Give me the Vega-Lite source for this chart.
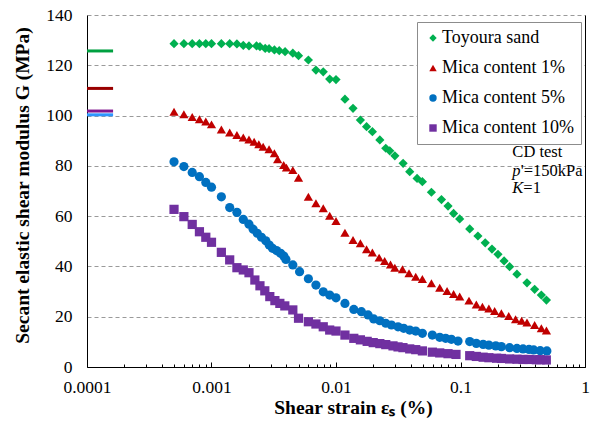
{
  "$schema": "https://vega.github.io/schema/vega-lite/v6.json",
  "width": 498,
  "height": 352,
  "autosize": "none",
  "padding": {"left": 87, "top": 15, "right": 9, "bottom": 56},
  "background": "white",
  "config": {
    "font": "Liberation Serif",
    "view": {"stroke": null},
    "axis": {
      "labelFont": "Liberation Serif",
      "labelFontSize": 17.5,
      "labelColor": "black",
      "titleFont": "Liberation Serif",
      "titleFontSize": 19.5,
      "titleFontWeight": "bold",
      "titleColor": "black",
      "domainColor": "black",
      "domainWidth": 1
    }
  },
  "datasets": {
    "points": [
      {"series": "Toyoura sand", "strain": 0.0005, "G": 128.6},
      {"series": "Toyoura sand", "strain": 0.0006, "G": 128.6},
      {"series": "Toyoura sand", "strain": 0.0007, "G": 128.6},
      {"series": "Toyoura sand", "strain": 0.0008, "G": 128.6},
      {"series": "Toyoura sand", "strain": 0.0009, "G": 128.6},
      {"series": "Toyoura sand", "strain": 0.001, "G": 128.6},
      {"series": "Toyoura sand", "strain": 0.0012, "G": 128.6},
      {"series": "Toyoura sand", "strain": 0.0014, "G": 128.6},
      {"series": "Toyoura sand", "strain": 0.0016, "G": 128.5},
      {"series": "Toyoura sand", "strain": 0.0018, "G": 127.9},
      {"series": "Toyoura sand", "strain": 0.002, "G": 127.7},
      {"series": "Toyoura sand", "strain": 0.0023, "G": 127.7},
      {"series": "Toyoura sand", "strain": 0.00245, "G": 127.4},
      {"series": "Toyoura sand", "strain": 0.0027, "G": 126.7},
      {"series": "Toyoura sand", "strain": 0.0029, "G": 126.6},
      {"series": "Toyoura sand", "strain": 0.0032, "G": 126.1},
      {"series": "Toyoura sand", "strain": 0.0035, "G": 125.8},
      {"series": "Toyoura sand", "strain": 0.0039, "G": 125.4},
      {"series": "Toyoura sand", "strain": 0.0045, "G": 124.8},
      {"series": "Toyoura sand", "strain": 0.005, "G": 123.8},
      {"series": "Toyoura sand", "strain": 0.006, "G": 122.1},
      {"series": "Toyoura sand", "strain": 0.0069, "G": 118.1},
      {"series": "Toyoura sand", "strain": 0.0079, "G": 117.4},
      {"series": "Toyoura sand", "strain": 0.0089, "G": 114.5},
      {"series": "Toyoura sand", "strain": 0.01, "G": 114.3},
      {"series": "Toyoura sand", "strain": 0.0118, "G": 106.5},
      {"series": "Toyoura sand", "strain": 0.0137, "G": 102.9},
      {"series": "Toyoura sand", "strain": 0.0157, "G": 98.2},
      {"series": "Toyoura sand", "strain": 0.0176, "G": 95.6},
      {"series": "Toyoura sand", "strain": 0.0196, "G": 93.6},
      {"series": "Toyoura sand", "strain": 0.0225, "G": 90.3},
      {"series": "Toyoura sand", "strain": 0.0251, "G": 87.0},
      {"series": "Toyoura sand", "strain": 0.027, "G": 86.0},
      {"series": "Toyoura sand", "strain": 0.0297, "G": 84.0},
      {"series": "Toyoura sand", "strain": 0.0346, "G": 81.0},
      {"series": "Toyoura sand", "strain": 0.0391, "G": 77.7},
      {"series": "Toyoura sand", "strain": 0.0448, "G": 75.0},
      {"series": "Toyoura sand", "strain": 0.0494, "G": 73.7},
      {"series": "Toyoura sand", "strain": 0.0584, "G": 69.5},
      {"series": "Toyoura sand", "strain": 0.0703, "G": 66.6},
      {"series": "Toyoura sand", "strain": 0.0794, "G": 64.0},
      {"series": "Toyoura sand", "strain": 0.088, "G": 61.1},
      {"series": "Toyoura sand", "strain": 0.0985, "G": 58.9},
      {"series": "Toyoura sand", "strain": 0.1186, "G": 54.9},
      {"series": "Toyoura sand", "strain": 0.138, "G": 52.1},
      {"series": "Toyoura sand", "strain": 0.158, "G": 49.4},
      {"series": "Toyoura sand", "strain": 0.179, "G": 46.9},
      {"series": "Toyoura sand", "strain": 0.2, "G": 44.8},
      {"series": "Toyoura sand", "strain": 0.224, "G": 42.2},
      {"series": "Toyoura sand", "strain": 0.248, "G": 39.9},
      {"series": "Toyoura sand", "strain": 0.284, "G": 36.9},
      {"series": "Toyoura sand", "strain": 0.342, "G": 33.5},
      {"series": "Toyoura sand", "strain": 0.394, "G": 30.9},
      {"series": "Toyoura sand", "strain": 0.446, "G": 28.6},
      {"series": "Toyoura sand", "strain": 0.49, "G": 26.6},

      {"series": "Mica content 1%", "strain": 0.0005, "G": 101.5},
      {"series": "Mica content 1%", "strain": 0.0006, "G": 100.5},
      {"series": "Mica content 1%", "strain": 0.0007, "G": 99.4},
      {"series": "Mica content 1%", "strain": 0.0008, "G": 98.5},
      {"series": "Mica content 1%", "strain": 0.0009, "G": 97.6},
      {"series": "Mica content 1%", "strain": 0.001, "G": 96.5},
      {"series": "Mica content 1%", "strain": 0.0012, "G": 94.5},
      {"series": "Mica content 1%", "strain": 0.0014, "G": 93.3},
      {"series": "Mica content 1%", "strain": 0.0016, "G": 92.3},
      {"series": "Mica content 1%", "strain": 0.0018, "G": 91.3},
      {"series": "Mica content 1%", "strain": 0.002, "G": 90.5},
      {"series": "Mica content 1%", "strain": 0.0022, "G": 89.6},
      {"series": "Mica content 1%", "strain": 0.0024, "G": 88.6},
      {"series": "Mica content 1%", "strain": 0.0026, "G": 87.6},
      {"series": "Mica content 1%", "strain": 0.0029, "G": 86.6},
      {"series": "Mica content 1%", "strain": 0.0032, "G": 85.0},
      {"series": "Mica content 1%", "strain": 0.0034, "G": 82.6},
      {"series": "Mica content 1%", "strain": 0.0038, "G": 80.3},
      {"series": "Mica content 1%", "strain": 0.004, "G": 79.3},
      {"series": "Mica content 1%", "strain": 0.0045, "G": 78.3},
      {"series": "Mica content 1%", "strain": 0.005, "G": 75.3},
      {"series": "Mica content 1%", "strain": 0.006, "G": 67.7},
      {"series": "Mica content 1%", "strain": 0.0069, "G": 65.1},
      {"series": "Mica content 1%", "strain": 0.0079, "G": 63.1},
      {"series": "Mica content 1%", "strain": 0.0089, "G": 60.2},
      {"series": "Mica content 1%", "strain": 0.01, "G": 58.1},
      {"series": "Mica content 1%", "strain": 0.0118, "G": 53.4},
      {"series": "Mica content 1%", "strain": 0.0137, "G": 50.5},
      {"series": "Mica content 1%", "strain": 0.0157, "G": 49.2},
      {"series": "Mica content 1%", "strain": 0.0176, "G": 46.8},
      {"series": "Mica content 1%", "strain": 0.0196, "G": 45.5},
      {"series": "Mica content 1%", "strain": 0.0222, "G": 43.5},
      {"series": "Mica content 1%", "strain": 0.0246, "G": 42.2},
      {"series": "Mica content 1%", "strain": 0.0274, "G": 40.8},
      {"series": "Mica content 1%", "strain": 0.0297, "G": 39.5},
      {"series": "Mica content 1%", "strain": 0.0342, "G": 38.9},
      {"series": "Mica content 1%", "strain": 0.0386, "G": 37.3},
      {"series": "Mica content 1%", "strain": 0.0437, "G": 35.9},
      {"series": "Mica content 1%", "strain": 0.0494, "G": 35.0},
      {"series": "Mica content 1%", "strain": 0.0584, "G": 33.3},
      {"series": "Mica content 1%", "strain": 0.0681, "G": 31.5},
      {"series": "Mica content 1%", "strain": 0.078, "G": 30.2},
      {"series": "Mica content 1%", "strain": 0.088, "G": 29.0},
      {"series": "Mica content 1%", "strain": 0.0985, "G": 28.0},
      {"series": "Mica content 1%", "strain": 0.117, "G": 26.4},
      {"series": "Mica content 1%", "strain": 0.134, "G": 24.9},
      {"series": "Mica content 1%", "strain": 0.15, "G": 24.0},
      {"series": "Mica content 1%", "strain": 0.169, "G": 23.3},
      {"series": "Mica content 1%", "strain": 0.188, "G": 22.3},
      {"series": "Mica content 1%", "strain": 0.213, "G": 21.4},
      {"series": "Mica content 1%", "strain": 0.244, "G": 20.3},
      {"series": "Mica content 1%", "strain": 0.277, "G": 19.0},
      {"series": "Mica content 1%", "strain": 0.31, "G": 18.4},
      {"series": "Mica content 1%", "strain": 0.342, "G": 17.7},
      {"series": "Mica content 1%", "strain": 0.394, "G": 16.7},
      {"series": "Mica content 1%", "strain": 0.446, "G": 15.4},
      {"series": "Mica content 1%", "strain": 0.49, "G": 14.5},

      {"series": "Mica content 5%", "strain": 0.0005, "G": 81.6},
      {"series": "Mica content 5%", "strain": 0.0006, "G": 79.7},
      {"series": "Mica content 5%", "strain": 0.0007, "G": 77.4},
      {"series": "Mica content 5%", "strain": 0.0008, "G": 75.7},
      {"series": "Mica content 5%", "strain": 0.0009, "G": 73.4},
      {"series": "Mica content 5%", "strain": 0.001, "G": 71.5},
      {"series": "Mica content 5%", "strain": 0.0012, "G": 67.7},
      {"series": "Mica content 5%", "strain": 0.0014, "G": 63.4},
      {"series": "Mica content 5%", "strain": 0.0016, "G": 61.5},
      {"series": "Mica content 5%", "strain": 0.0018, "G": 58.7},
      {"series": "Mica content 5%", "strain": 0.002, "G": 56.8},
      {"series": "Mica content 5%", "strain": 0.00216, "G": 54.8},
      {"series": "Mica content 5%", "strain": 0.00233, "G": 53.2},
      {"series": "Mica content 5%", "strain": 0.00252, "G": 51.6},
      {"series": "Mica content 5%", "strain": 0.00273, "G": 50.2},
      {"series": "Mica content 5%", "strain": 0.00291, "G": 48.5},
      {"series": "Mica content 5%", "strain": 0.00309, "G": 47.2},
      {"series": "Mica content 5%", "strain": 0.00333, "G": 46.3},
      {"series": "Mica content 5%", "strain": 0.00359, "G": 45.2},
      {"series": "Mica content 5%", "strain": 0.00381, "G": 44.1},
      {"series": "Mica content 5%", "strain": 0.00396, "G": 42.8},
      {"series": "Mica content 5%", "strain": 0.0045, "G": 40.6},
      {"series": "Mica content 5%", "strain": 0.0051, "G": 37.9},
      {"series": "Mica content 5%", "strain": 0.006, "G": 35.1},
      {"series": "Mica content 5%", "strain": 0.0069, "G": 32.6},
      {"series": "Mica content 5%", "strain": 0.0079, "G": 29.9},
      {"series": "Mica content 5%", "strain": 0.0089, "G": 28.6},
      {"series": "Mica content 5%", "strain": 0.01, "G": 27.5},
      {"series": "Mica content 5%", "strain": 0.0118, "G": 25.3},
      {"series": "Mica content 5%", "strain": 0.0139, "G": 22.9},
      {"series": "Mica content 5%", "strain": 0.016, "G": 22.0},
      {"series": "Mica content 5%", "strain": 0.0181, "G": 20.7},
      {"series": "Mica content 5%", "strain": 0.0201, "G": 19.1},
      {"series": "Mica content 5%", "strain": 0.0225, "G": 18.4},
      {"series": "Mica content 5%", "strain": 0.0251, "G": 17.4},
      {"series": "Mica content 5%", "strain": 0.0279, "G": 16.7},
      {"series": "Mica content 5%", "strain": 0.0315, "G": 16.0},
      {"series": "Mica content 5%", "strain": 0.035, "G": 15.4},
      {"series": "Mica content 5%", "strain": 0.0391, "G": 14.7},
      {"series": "Mica content 5%", "strain": 0.0437, "G": 14.3},
      {"series": "Mica content 5%", "strain": 0.0494, "G": 13.4},
      {"series": "Mica content 5%", "strain": 0.0594, "G": 12.7},
      {"series": "Mica content 5%", "strain": 0.0681, "G": 11.8},
      {"series": "Mica content 5%", "strain": 0.076, "G": 11.4},
      {"series": "Mica content 5%", "strain": 0.0845, "G": 11.0},
      {"series": "Mica content 5%", "strain": 0.0955, "G": 10.3},
      {"series": "Mica content 5%", "strain": 0.1186, "G": 10.1},
      {"series": "Mica content 5%", "strain": 0.134, "G": 9.4},
      {"series": "Mica content 5%", "strain": 0.152, "G": 9.0},
      {"series": "Mica content 5%", "strain": 0.169, "G": 8.7},
      {"series": "Mica content 5%", "strain": 0.192, "G": 8.4},
      {"series": "Mica content 5%", "strain": 0.213, "G": 8.1},
      {"series": "Mica content 5%", "strain": 0.248, "G": 7.7},
      {"series": "Mica content 5%", "strain": 0.284, "G": 7.4},
      {"series": "Mica content 5%", "strain": 0.318, "G": 7.2},
      {"series": "Mica content 5%", "strain": 0.355, "G": 7.0},
      {"series": "Mica content 5%", "strain": 0.387, "G": 6.8},
      {"series": "Mica content 5%", "strain": 0.437, "G": 6.5},
      {"series": "Mica content 5%", "strain": 0.494, "G": 6.4},

      {"series": "Mica content 10%", "strain": 0.0005, "G": 62.7},
      {"series": "Mica content 10%", "strain": 0.0006, "G": 59.8},
      {"series": "Mica content 10%", "strain": 0.0007, "G": 56.7},
      {"series": "Mica content 10%", "strain": 0.0008, "G": 53.8},
      {"series": "Mica content 10%", "strain": 0.0009, "G": 51.6},
      {"series": "Mica content 10%", "strain": 0.001, "G": 49.6},
      {"series": "Mica content 10%", "strain": 0.0012, "G": 45.6},
      {"series": "Mica content 10%", "strain": 0.0014, "G": 42.6},
      {"series": "Mica content 10%", "strain": 0.0016, "G": 39.5},
      {"series": "Mica content 10%", "strain": 0.0018, "G": 38.6},
      {"series": "Mica content 10%", "strain": 0.002, "G": 37.5},
      {"series": "Mica content 10%", "strain": 0.00223, "G": 34.6},
      {"series": "Mica content 10%", "strain": 0.00245, "G": 32.3},
      {"series": "Mica content 10%", "strain": 0.00268, "G": 30.3},
      {"series": "Mica content 10%", "strain": 0.00294, "G": 28.0},
      {"series": "Mica content 10%", "strain": 0.00323, "G": 26.4},
      {"series": "Mica content 10%", "strain": 0.00354, "G": 25.3},
      {"series": "Mica content 10%", "strain": 0.00388, "G": 24.3},
      {"series": "Mica content 10%", "strain": 0.0045, "G": 22.7},
      {"series": "Mica content 10%", "strain": 0.005, "G": 19.4},
      {"series": "Mica content 10%", "strain": 0.006, "G": 18.0},
      {"series": "Mica content 10%", "strain": 0.0069, "G": 17.1},
      {"series": "Mica content 10%", "strain": 0.0079, "G": 16.0},
      {"series": "Mica content 10%", "strain": 0.0089, "G": 14.7},
      {"series": "Mica content 10%", "strain": 0.01, "G": 14.3},
      {"series": "Mica content 10%", "strain": 0.0118, "G": 12.7},
      {"series": "Mica content 10%", "strain": 0.0139, "G": 11.4},
      {"series": "Mica content 10%", "strain": 0.0157, "G": 10.8},
      {"series": "Mica content 10%", "strain": 0.0178, "G": 10.2},
      {"series": "Mica content 10%", "strain": 0.0199, "G": 9.7},
      {"series": "Mica content 10%", "strain": 0.0225, "G": 9.3},
      {"series": "Mica content 10%", "strain": 0.0251, "G": 8.9},
      {"series": "Mica content 10%", "strain": 0.0287, "G": 8.4},
      {"series": "Mica content 10%", "strain": 0.0315, "G": 8.0},
      {"series": "Mica content 10%", "strain": 0.0345, "G": 7.7},
      {"series": "Mica content 10%", "strain": 0.0391, "G": 7.2},
      {"series": "Mica content 10%", "strain": 0.0437, "G": 6.9},
      {"series": "Mica content 10%", "strain": 0.0494, "G": 6.4},
      {"series": "Mica content 10%", "strain": 0.0594, "G": 5.9},
      {"series": "Mica content 10%", "strain": 0.0681, "G": 5.6},
      {"series": "Mica content 10%", "strain": 0.0794, "G": 5.3},
      {"series": "Mica content 10%", "strain": 0.092, "G": 5.0},
      {"series": "Mica content 10%", "strain": 0.1186, "G": 4.5},
      {"series": "Mica content 10%", "strain": 0.134, "G": 4.2},
      {"series": "Mica content 10%", "strain": 0.152, "G": 3.9},
      {"series": "Mica content 10%", "strain": 0.169, "G": 3.7},
      {"series": "Mica content 10%", "strain": 0.195, "G": 3.5},
      {"series": "Mica content 10%", "strain": 0.213, "G": 3.4},
      {"series": "Mica content 10%", "strain": 0.248, "G": 3.2},
      {"series": "Mica content 10%", "strain": 0.284, "G": 3.1},
      {"series": "Mica content 10%", "strain": 0.318, "G": 3.0},
      {"series": "Mica content 10%", "strain": 0.355, "G": 3.0},
      {"series": "Mica content 10%", "strain": 0.407, "G": 2.9},
      {"series": "Mica content 10%", "strain": 0.437, "G": 2.9},
      {"series": "Mica content 10%", "strain": 0.489, "G": 2.8}
    ],
    "emax": [
      {"series": "Toyoura sand", "strain": 0.0001, "strain2": 0.000162, "G": 125.7},
      {"series": "Mica content 1%", "strain": 0.0001, "strain2": 0.000162, "G": 110.8},
      {"series": "Mica content 10%", "strain": 0.0001, "strain2": 0.000162, "G": 101.8},
      {"series": "Mica content 5%", "strain": 0.0001, "strain2": 0.000162, "G": 100.3}
    ],
    "notes": [
      {"part": "plain", "text": "CD test", "strain": 0.261, "G": 83.6},
      {"part": "italic", "text": "p", "strain": 0.261, "G": 76.1},
      {"part": "after-p", "text": "'=150kPa", "strain": 0.261, "G": 76.1},
      {"part": "italic", "text": "K", "strain": 0.261, "G": 69.1},
      {"part": "after-K", "text": "=1", "strain": 0.261, "G": 69.1}
    ]
  },
  "layer": [
    {
      "encoding": {
        "x": {
          "field": "strain",
          "type": "quantitative",
          "title": "Shear strain εₛ (%)",
          "scale": {"type": "log", "domain": [0.0001, 1]},
          "axis": {
            "values": [0.0001, 0.0002, 0.0003, 0.0004, 0.0005, 0.0006, 0.0007, 0.0008, 0.0009,
                       0.001, 0.002, 0.003, 0.004, 0.005, 0.006, 0.007, 0.008, 0.009,
                       0.01, 0.02, 0.03, 0.04, 0.05, 0.06, 0.07, 0.08, 0.09,
                       0.1, 0.2, 0.3, 0.4, 0.5, 0.6, 0.7, 0.8, 0.9, 1],
            "format": "~g",
            "labelExpr": "abs(log(datum.value)/LN10 - round(log(datum.value)/LN10)) < 0.001 ? datum.label : ''",
            "grid": false,
            "ticks": true,
            "tickColor": "black",
            "tickWidth": 1,
            "tickSize": {"condition": {"test": "abs(log(datum.value)/LN10 - round(log(datum.value)/LN10)) < 0.001", "value": -5}, "value": -3},
            "labelPadding": 16,
            "labelFlush": false,
            "titlePadding": 3,
            "titleX": 266
          }
        },
        "y": {
          "field": "G",
          "type": "quantitative",
          "title": "Secant elastic shear modulus G (MPa)",
          "scale": {"domain": [0, 140]},
          "axis": {
            "values": [0, 20, 40, 60, 80, 100, 120, 140],
            "grid": true,
            "gridDash": [4, 3],
            "gridColor": "#9a9a9a",
            "gridWidth": 1,
            "ticks": false,
            "labelPadding": 15,
            "titlePadding": 13,
            "titleY": 170
          }
        }
      },
      "layer": [
        {
          "data": {"name": "emax"},
          "transform": [{"filter": "datum.series == 'Toyoura sand'"}],
          "mark": {"type": "rule", "color": "#00A040", "strokeWidth": 3},
          "encoding": {"x2": {"field": "strain2"}}
        },
        {
          "data": {"name": "emax"},
          "transform": [{"filter": "datum.series == 'Mica content 1%'"}],
          "mark": {"type": "rule", "color": "#990000", "strokeWidth": 3},
          "encoding": {"x2": {"field": "strain2"}}
        },
        {
          "data": {"name": "emax"},
          "transform": [{"filter": "datum.series == 'Mica content 10%'"}],
          "mark": {"type": "rule", "color": "#80168F", "strokeWidth": 3},
          "encoding": {"x2": {"field": "strain2"}}
        },
        {
          "data": {"name": "emax"},
          "transform": [{"filter": "datum.series == 'Mica content 5%'"}],
          "mark": {"type": "rule", "color": "#2E96FF", "strokeWidth": 3},
          "encoding": {"x2": {"field": "strain2"}}
        },
        {
          "data": {"name": "points"},
          "mark": {"type": "point", "filled": true, "opacity": 1, "strokeWidth": 0, "size": 85},
          "encoding": {
            "color": {
              "field": "series",
              "type": "nominal",
              "scale": {
                "domain": ["Toyoura sand", "Mica content 1%", "Mica content 5%", "Mica content 10%"],
                "range": ["#00B050", "#C00000", "#0070C0", "#7030A0"]
              },
              "legend": {
                "title": null,
                "orient": "none",
                "legendX": 330,
                "legendY": 7,
                "strokeColor": "#8c8c8c",
                "fillColor": "white",
                "padding": 7,
                "labelFont": "Liberation Serif",
                "labelFontSize": 18,
                "labelColor": "black",
                "labelLimit": 300,
                "symbolSize": 55,
                "symbolStrokeWidth": 0,
                "rowPadding": 12,
                "labelOffset": 0
              }
            },
            "shape": {
              "field": "series",
              "type": "nominal",
              "scale": {
                "domain": ["Toyoura sand", "Mica content 1%", "Mica content 5%", "Mica content 10%"],
                "range": ["diamond", "triangle-up", "circle", "square"]
              }
            }
          }
        },
        {
          "data": {"name": "notes"},
          "transform": [{"filter": "datum.part == 'plain'"}],
          "mark": {"type": "text", "align": "left", "baseline": "alphabetic", "font": "Liberation Serif", "fontSize": 16.5, "color": "black"},
          "encoding": {"text": {"field": "text"}}
        },
        {
          "data": {"name": "notes"},
          "transform": [{"filter": "datum.part == 'italic'"}],
          "mark": {"type": "text", "align": "left", "baseline": "alphabetic", "font": "Liberation Serif", "fontSize": 16.5, "fontStyle": "italic", "color": "black"},
          "encoding": {"text": {"field": "text"}}
        },
        {
          "data": {"name": "notes"},
          "transform": [{"filter": "datum.part == 'after-p'"}],
          "mark": {"type": "text", "align": "left", "baseline": "alphabetic", "font": "Liberation Serif", "fontSize": 16.5, "color": "black", "dx": 8.3},
          "encoding": {"text": {"field": "text"}}
        },
        {
          "data": {"name": "notes"},
          "transform": [{"filter": "datum.part == 'after-K'"}],
          "mark": {"type": "text", "align": "left", "baseline": "alphabetic", "font": "Liberation Serif", "fontSize": 16.5, "color": "black", "dx": 11},
          "encoding": {"text": {"field": "text"}}
        }
      ]
    },
    {
      "data": {"name": "emax"},
      "mark": {"type": "rule", "opacity": 0},
      "encoding": {
        "x": {"field": "strain", "type": "quantitative", "title": "Shear strain εₛ (%)"},
        "x2": {"field": "strain2"},
        "y": {
          "field": "G",
          "type": "quantitative",
          "axis": {"orient": "right", "labels": false, "ticks": false, "grid": false, "title": null, "domainColor": "black"}
        }
      }
    }
  ],
  "resolve": {"axis": {"y": "independent"}}
}
